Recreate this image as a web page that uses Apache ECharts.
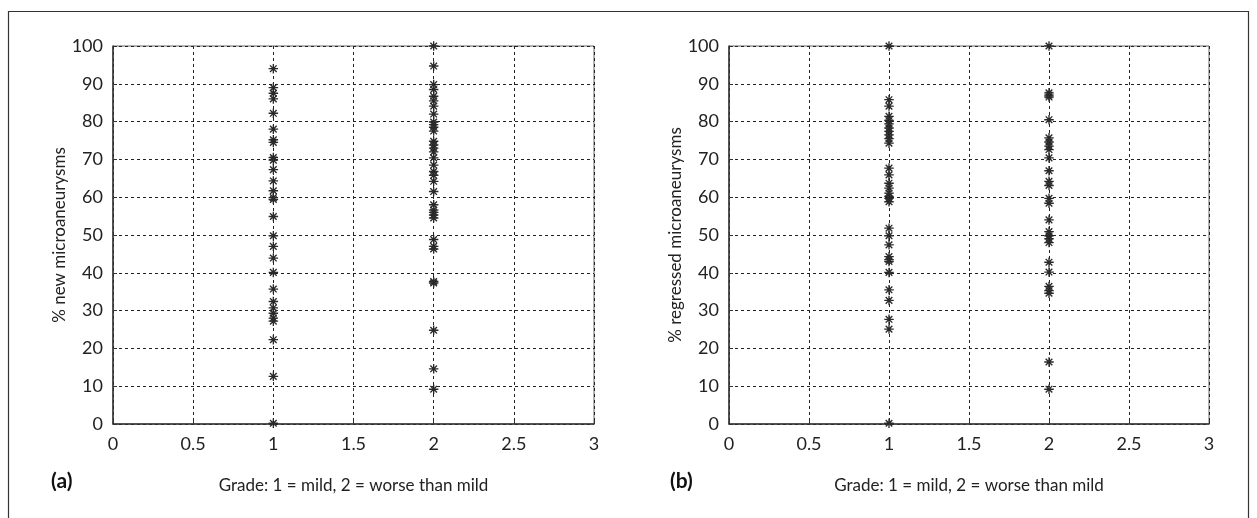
<!DOCTYPE html>
<html><head><meta charset="utf-8">
<script src="https://cdn.jsdelivr.net/npm/echarts@6/dist/echarts.min.js"></script>
<style>html,body{margin:0;padding:0;background:#fff}#c{width:1257px;height:518px}</style>
</head><body><div id="c"></div><script>
// Grade categories (x positions) and values
const gradeMild = 1;
const gradeWorse = 2;
const newMild = [94, 89, 87.5, 86, 82.2, 78, 75.2, 74.5, 70.5, 69.8, 67.3, 64.3, 61.7, 59.9, 59.4, 54.9, 49.8, 47, 43.9, 40.1, 35.7, 32.4, 30.7, 29.3, 28, 27.2, 22.3, 12.6, 0.2];
const newWorse = [100, 94.7, 89.8, 88.5, 86.7, 85.5, 84.1, 82, 79.9, 79.2, 78.5, 77.5, 74.8, 73.8, 73, 72, 70.4, 68.5, 66.8, 65.8, 64.2, 61.5, 58, 56.6, 56, 55.3, 54.5, 48.8, 47, 46.3, 37.7, 37.3, 24.8, 14.6, 9.2];
const regMild = [100, 85.8, 84.1, 81.4, 80.3, 79.4, 78.3, 77.4, 76.5, 75.5, 74.3, 67.7, 65.9, 63.7, 62.4, 61.1, 60.2, 59.7, 58.8, 51.8, 49.8, 47.4, 44.3, 43.5, 43, 40.1, 35.5, 32.7, 27.7, 25.1, 0.2];
const regWorse = [100, 87.6, 87, 86.5, 80.5, 75.7, 74.6, 73.5, 72.6, 70.4, 67, 64.2, 63.1, 59.7, 58.4, 54, 50.9, 49.8, 49, 48, 42.8, 40.2, 36.4, 35.3, 34.6, 16.4, 9.2];
const xTicks = [0, 0.5, 1, 1.5, 2, 2.5, 3];
const yTicks = [0, 10, 20, 30, 40, 50, 60, 70, 80, 90, 100];
const yTitles = ['% new microaneurysms', '% regressed microaneurysms'];
const xTitle = 'Grade: 1 = mild, 2 = worse than mild';
const panelLabels = ['(a)', '(b)'];

const FONT = 'Lato';
const asterisk = 'path://M-0.7,-5L0.7,-5L0.7,5L-0.7,5Z M-5,-0.7L5,-0.7L5,0.7L-5,0.7Z M-3,-4L4,3L3,4L-4,-3Z M3,-4L4,-3L-3,4L-4,3Z';

function pts(x, arr) { return arr.map(v => [x, v]); }

const grids = [
  {left: 113, top: 46, width: 481, height: 378, show: true, borderColor: '#666', borderWidth: 1},
  {left: 729, top: 46, width: 480, height: 378, show: true, borderColor: '#666', borderWidth: 1}
];
const dashed = {show: true, lineStyle: {color: '#222', type: [3, 3], width: 1}};
const xAxes = grids.map((g, i) => ({
  type: 'value', gridIndex: i, min: xTicks[0], max: xTicks[xTicks.length - 1], interval: xTicks[1] - xTicks[0],
  axisLine: {show: true, lineStyle: {color: '#333', width: 1.5}},
  axisTick: {show: true, inside: true, length: 4, lineStyle: {color: '#333'}},
  splitLine: dashed,
  axisLabel: {color: '#222', fontFamily: FONT, fontSize: 18, margin: 11},
  name: xTitle, nameLocation: 'middle', nameGap: 53,
  nameTextStyle: {color: '#222', fontFamily: FONT, fontSize: 17}
}));
const yAxes = grids.map((g, i) => ({
  type: 'value', gridIndex: i, min: yTicks[0], max: yTicks[yTicks.length - 1], interval: yTicks[1] - yTicks[0],
  axisLine: {show: true, lineStyle: {color: '#333', width: 1.5}},
  axisTick: {show: true, inside: true, length: 4, lineStyle: {color: '#333'}},
  splitLine: dashed,
  axisLabel: {color: '#222', fontFamily: FONT, fontSize: 18, margin: 10},
  name: yTitles[i], nameLocation: 'middle', nameGap: 38,
  nameTextStyle: {color: '#222', fontFamily: FONT, fontSize: 17}
}));
const sym = {type: 'scatter', symbol: asterisk, symbolSize: 9.5, itemStyle: {color: '#2a2a2a', opacity: 1}, silent: true};
const series = [
  Object.assign({}, sym, {xAxisIndex: 0, yAxisIndex: 0, data: pts(gradeMild, newMild)}),
  Object.assign({}, sym, {xAxisIndex: 0, yAxisIndex: 0, data: pts(gradeWorse, newWorse)}),
  Object.assign({}, sym, {xAxisIndex: 1, yAxisIndex: 1, data: pts(gradeMild, regMild)}),
  Object.assign({}, sym, {xAxisIndex: 1, yAxisIndex: 1, data: pts(gradeWorse, regWorse)})
];
const chart = echarts.init(document.getElementById('c'), null, {renderer: 'canvas'});
chart.setOption({
  animation: false,
  backgroundColor: '#fff',
  grid: grids, xAxis: xAxes, yAxis: yAxes, series: series,
  graphic: [
    {type: 'rect', shape: {x: 8.5, y: 11.5, width: 1240, height: 700}, style: {fill: 'none', stroke: '#333', lineWidth: 1.2}, silent: true},
    {type: 'text', left: 51, top: 471, style: {text: panelLabels[0], font: 'bold 21px ' + FONT, fill: '#111'}},
    {type: 'text', left: 670, top: 471, style: {text: panelLabels[1], font: 'bold 21px ' + FONT, fill: '#111'}}
  ]
});
</script></body></html>
